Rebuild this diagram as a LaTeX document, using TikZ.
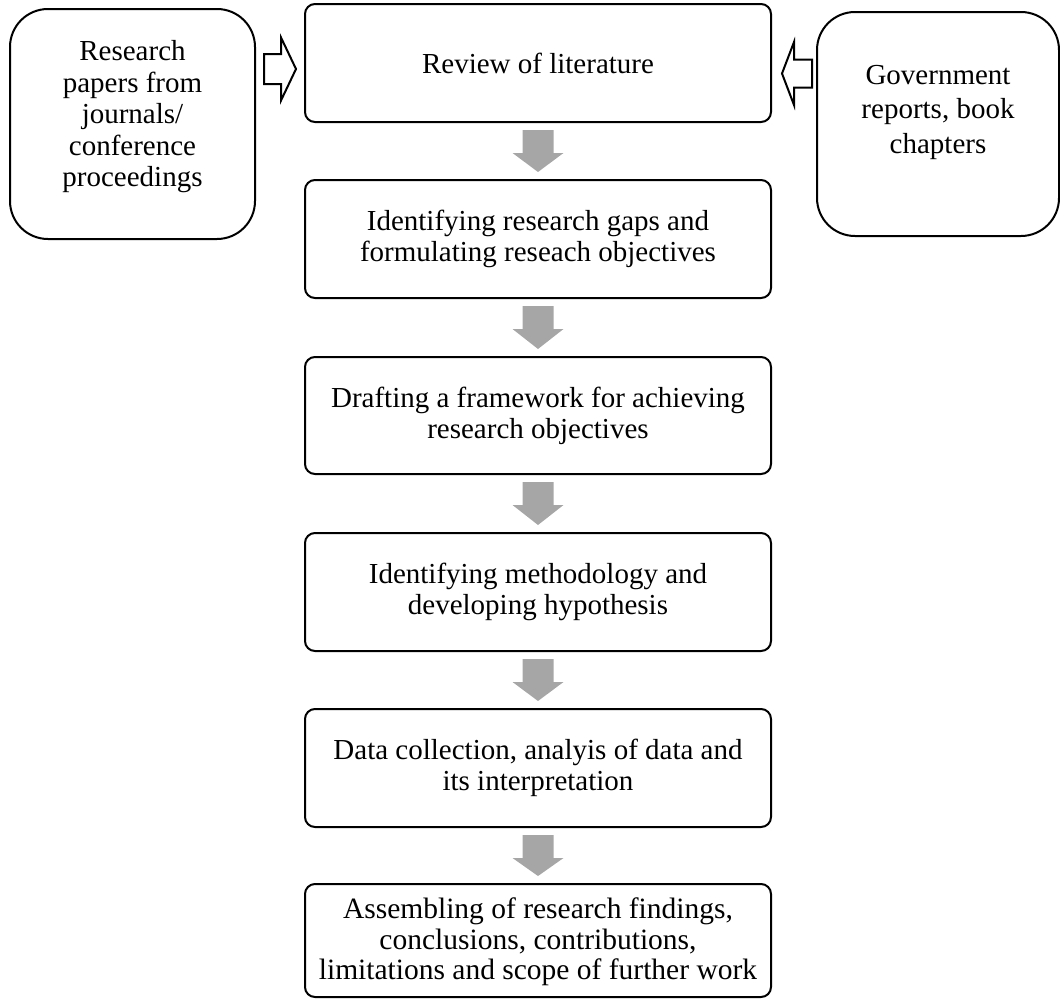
\documentclass[tikz,border=0pt]{standalone}
\usepackage{fontspec}
\setmainfont{Liberation Serif}
\usetikzlibrary{calc}
\definecolor{arrowgray}{RGB}{166,166,166}
\newcommand\grayarrow[2]{%
  \fill[arrowgray] ($(#1.south)+(-15.5,7)$) -- ++(31,0) -- ++(0,23) -- ++(10,0)
    -- ($(#2.north)+(0,-7)$) -- ($(#1.south)+(-25.5,30)$) -- ++(10,0) -- cycle;}
\begin{document}
\begin{tikzpicture}[x=1pt,y=-1pt,
  stepbox/.style={draw, line width=2pt, rounded corners=10pt, inner sep=0pt,
    minimum width=466pt, align=center, font=\fontsize{29}{31}\selectfont},
  sidebox/.style={draw, line width=2pt, rounded corners=38pt, inner sep=0pt,
    align=center},
  hollow/.style={draw, line width=2pt, fill=white, line join=miter}]
\useasboundingbox (0,0) rectangle (1060,999);
\node[stepbox, minimum height=118pt] (b1) at (538,63) {Review of literature};
\node[stepbox, minimum height=118pt] (b2) at (538,239) {Identifying research gaps and\\formulating reseach objectives};
\node[stepbox, minimum height=117pt] (b3) at (538,415.5) {Drafting a framework for achieving\\research objectives};
\node[stepbox, minimum height=118pt] (b4) at (538,592) {Identifying methodology and\\developing hypothesis};
\node[stepbox, minimum height=118pt] (b5) at (538,768) {Data collection, analyis of data and\\its interpretation};
\node[stepbox, minimum height=113pt] (b6) at (538,940.5) {};
\node[align=center, inner sep=0pt, font=\fontsize{29.5}{30.5}\selectfont] (t6) at (538,942) {Assembling of research findings,\\conclusions, contributions,\\limitations and scope of further work};
\node[sidebox, minimum width=245pt, minimum height=230pt] (src1) at (132.5,124) {};
\node[align=center, font=\fontsize{29}{31.5}\selectfont] (t1) at (132.5,117) {Research\\papers from\\journals/\\conference\\proceedings};
\node[sidebox, minimum width=242pt, minimum height=224pt] (src2) at (938,124) {};
\node[align=center, font=\fontsize{29}{34.5}\selectfont] (t2) at (938,112) {Government\\reports, book\\chapters};
\grayarrow{b1}{b2}
\grayarrow{b2}{b3}
\grayarrow{b3}{b4}
\grayarrow{b4}{b5}
\grayarrow{b5}{b6}
\draw[hollow] ($(b1.west)+(-8,6)$) -- ++(-15,-31.5) -- ++(0,16.5) -- ++(-17,0) -- ++(0,30) -- ++(17,0) -- ++(0,16.5) -- cycle;
\draw[hollow] ($(b1.east)+(10,10.5)$) -- ++(12,-31.5) -- ++(0,17.5) -- ++(18,0) -- ++(0,28) -- ++(-18,0) -- ++(0,17.5) -- cycle;
\end{tikzpicture}
\end{document}
